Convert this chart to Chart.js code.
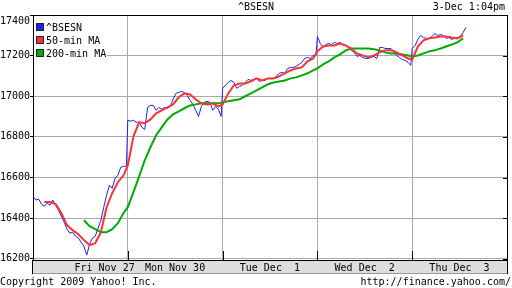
<!DOCTYPE html>
<html>
<head>
<meta charset="utf-8">
<script src="https://cdn.jsdelivr.net/npm/chart.js"></script>
<style>
  body { margin: 0; background: #fff; }
  #wrap { position: relative; width: 512px; height: 288px; overflow: hidden; }
  #wrap canvas { position: absolute; left: 0; top: 0; }
  .txt { position: absolute; font: 10px "DejaVu Sans Mono", monospace; line-height: 12px; color: #000; white-space: pre; }
</style>
</head>
<body>
<div id="wrap">
  <canvas id="chart" width="512" height="288"></canvas>
  <div class="txt" style="left:0;width:512px;text-align:center;top:1px;">^BSESN</div>
  <div class="txt" style="right:7px;top:1px;">3-Dec 1:04pm</div>
  <div class="txt" style="left:0;top:276px;">Copyright 2009 Yahoo! Inc.</div>
  <div class="txt" style="right:1px;top:276px;">http://finance.yahoo.com/</div>
</div>
<script>
// =================== DATA ===================
// each session is 9:55 - 15:30 = 335 minutes
const SESSION = 335;
const dayLabels = ["Fri Nov 27", "Mon Nov 30", "Tue Dec  1", "Wed Dec  2", "Thu Dec  3"];
const labelMinutes = [253, 502, 837, 1172, 1507];
const yTicks = [16200, 16400, 16600, 16800, 17000, 17200, 17400];

// ^BSESN, one value every 10 minutes
const bseFri = [16508, 16489, 16494, 16469, 16459, 16474, 16464, 16489, 16464, 16439,
  16410, 16380, 16346, 16326, 16331, 16311, 16302, 16282, 16262, 16218,
  16272, 16302, 16311, 16351, 16390, 16454, 16513, 16562, 16547, 16597,
  16611, 16650, 16655, 16655];
const bseMon = [16882, 16877, 16882, 16872, 16872, 16847, 16837, 16945, 16955, 16955,
  16931, 16945, 16936, 16945, 16941, 16950, 16985, 17014, 17019, 17024,
  17019, 17004, 16980, 16960, 16931, 16901, 16950, 16970, 16975, 16970,
  16931, 16950, 16936, 16901];
const bseTue = [17039, 17054, 17068, 17078, 17068, 17039, 17049, 17054, 17068, 17083,
  17078, 17083, 17088, 17073, 17078, 17078, 17088, 17088, 17088, 17098,
  17113, 17117, 17113, 17137, 17142, 17142, 17147, 17157, 17167, 17186,
  17191, 17186, 17201, 17201];
const bseWed = [17294, 17260, 17240, 17255, 17260, 17255, 17265, 17260, 17265, 17255,
  17250, 17240, 17226, 17216, 17196, 17201, 17191, 17186, 17186, 17191,
  17196, 17186, 17240, 17240, 17235, 17235, 17235, 17221, 17201, 17191,
  17181, 17176, 17167, 17152];
const bseThu = [17235, 17250, 17280, 17299, 17289, 17285, 17285, 17294, 17309, 17299,
  17304, 17299, 17285, 17289, 17280, 17285, 17289, 17294, 17314, 17339];

// 50-min MA, one value every 20 minutes
const ma50Fri = [null, null, 16479, 16479, 16469, 16425, 16366, 16341, 16321, 16292,
  16267, 16277, 16331, 16454, 16523, 16577, 16611];
const ma50Mon = [16660, 16803, 16872, 16867, 16886, 16916, 16931, 16945, 16960, 16995,
  17014, 17009, 16985, 16965, 16960, 16965, 16950];
const ma50Tue = [16960, 17014, 17054, 17063, 17063, 17073, 17088, 17078, 17088, 17088,
  17098, 17113, 17127, 17137, 17142, 17172, 17186];
const ma50Wed = [17221, 17245, 17250, 17250, 17260, 17250, 17235, 17211, 17201, 17191,
  17201, 17216, 17226, 17226, 17216, 17201, 17186];
const ma50Thu = [17181, 17245, 17275, 17285, 17289, 17294, 17294, 17289, 17285, 17300];

// 200-min MA, one value every 20 minutes
const ma200Fri = [null, null, null, null, null, null, null, null, null, 16390,
  16361, 16346, 16331, 16331, 16346, 16375, 16425];
const ma200Mon = [16454, 16528, 16606, 16685, 16749, 16808, 16847, 16886, 16911, 16926,
  16941, 16955, 16960, 16965, 16965, 16965, 16965];
const ma200Tue = [16970, 16975, 16980, 16985, 17000, 17014, 17029, 17044, 17059, 17068,
  17073, 17078, 17088, 17093, 17103, 17113, 17127];
const ma200Wed = [17137, 17157, 17172, 17191, 17206, 17226, 17235, 17235, 17235, 17235,
  17231, 17226, 17216, 17211, 17211, 17206, 17201];
const ma200Thu = [17196, 17201, 17211, 17221, 17226, 17235, 17245, 17255, 17265, 17285];

// =================== HELPERS ===================
function toPoints(days, step) {
  const pts = [];
  days.forEach((vals, d) => {
    vals.forEach((v, i) => {
      if (v !== null) pts.push({ x: d * SESSION + i * step, y: v });
    });
  });
  return pts;
}

const FONT = { family: "'DejaVu Sans Mono', monospace", size: 10 };
const FONT_CSS = "10px 'DejaVu Sans Mono', monospace";
const boundaries = [1, 2, 3, 4].map(d => d * SESSION);
const topTick = yTicks[yTicks.length - 1];

const legendItems = [
  { text: "^BSESN", color: "#2020ff" },
  { text: "50-min MA", color: "#ff3333" },
  { text: "200-min MA", color: "#00aa00" }
];

// =================== DECORATION PLUGIN ===================
const frame = {
  id: "frame",
  beforeDraw(chart) {
    const { ctx, chartArea: a } = chart;
    ctx.save();
    ctx.fillStyle = "#dddddd";
    ctx.fillRect(a.left, a.bottom, a.right - a.left, 13);
    ctx.restore();
  },
  afterDatasetsDraw(chart) {
    const { ctx, chartArea: a, scales } = chart;
    ctx.save();
    ctx.strokeStyle = "#000";
    ctx.lineWidth = 1;
    ctx.beginPath();
    // top + right border, left/right through the label band
    ctx.moveTo(a.left, a.top + 0.5); ctx.lineTo(a.right, a.top + 0.5);
    ctx.moveTo(a.right + 0.5, a.top); ctx.lineTo(a.right + 0.5, a.bottom + 14);
    ctx.moveTo(a.left - 0.5, a.bottom); ctx.lineTo(a.left - 0.5, a.bottom + 14);
    // day ticks at the bottom
    boundaries.forEach(b => {
      const x = Math.round(scales.x.getPixelForValue(b)) + 0.5;
      ctx.moveTo(x, a.bottom - 9); ctx.lineTo(x, a.bottom);
    });
    // small ticks on the right edge
    yTicks.forEach(t => {
      const y = Math.round(scales.y.getPixelForValue(t)) + 0.5;
      ctx.moveTo(a.right - 4, y); ctx.lineTo(a.right, y);
    });
    ctx.stroke();
    ctx.strokeStyle = "#999";
    ctx.beginPath();
    ctx.moveTo(a.left, a.bottom + 13.5); ctx.lineTo(a.right, a.bottom + 13.5);
    ctx.stroke();

    // top y label sits a bit lower so it is not cut off
    ctx.font = FONT_CSS;
    ctx.fillStyle = "#000";
    ctx.textAlign = "right";
    ctx.textBaseline = "middle";
    ctx.fillText(String(topTick), a.left - 3, scales.y.getPixelForValue(topTick) + 6);

    // legend
    ctx.textAlign = "left";
    ctx.fillStyle = "#fff";
    ctx.fillRect(a.left + 1, 21, 73, 38);
    legendItems.forEach((it, i) => {
      const cy = 27 + i * 13;
      ctx.fillStyle = it.color;
      ctx.fillRect(37, cy - 3, 6, 6);
      ctx.strokeStyle = "#222";
      ctx.strokeRect(36.5, cy - 3.5, 7, 7);
      ctx.fillStyle = "#000";
      ctx.fillText(it.text, 46, cy + 1);
    });
    ctx.restore();
  }
};

// =================== CHART ===================
new Chart(document.getElementById("chart"), {
  type: "line",
  data: {
    datasets: [
      {
        label: "50-min MA",
        data: toPoints([ma50Fri, ma50Mon, ma50Tue, ma50Wed, ma50Thu], 20),
        borderColor: "#ff3333",
        borderWidth: 2,
        order: 0
      },
      {
        label: "200-min MA",
        data: toPoints([ma200Fri, ma200Mon, ma200Tue, ma200Wed, ma200Thu], 20),
        borderColor: "#00aa00",
        borderWidth: 2,
        order: 1
      },
      {
        label: "^BSESN",
        data: toPoints([bseFri, bseMon, bseTue, bseWed, bseThu], 10),
        borderColor: "#2020ff",
        borderWidth: 1,
        order: 2
      }
    ]
  },
  options: {
    responsive: false,
    devicePixelRatio: 1,
    animation: false,
    layout: { padding: { top: 15, right: 5, bottom: 13, left: 0 } },
    elements: { point: { radius: 0 }, line: { tension: 0 } },
    plugins: { legend: { display: false }, tooltip: { enabled: false } },
    scales: {
      x: {
        type: "linear",
        min: 0,
        max: 5 * SESSION,
        afterBuildTicks: s => {
          s.ticks = boundaries.concat(labelMinutes).sort((a, b) => a - b).map(v => ({ value: v }));
        },
        afterFit: s => { s.height = 15; },
        grid: {
          drawTicks: false,
          color: c => (c.tick && boundaries.includes(c.tick.value)) ? "#aaaaaa" : "rgba(0,0,0,0)"
        },
        border: { color: "#000" },
        ticks: {
          font: FONT,
          color: "#000",
          padding: 2,
          maxRotation: 0,
          autoSkip: false,
          callback: v => {
            const i = labelMinutes.indexOf(v);
            return i >= 0 ? dayLabels[i] : "";
          }
        }
      },
      y: {
        min: 16194,
        max: 17400,
        afterBuildTicks: s => { s.ticks = yTicks.map(v => ({ value: v })); },
        afterFit: s => { s.width = 33; },
        grid: { color: "#aaaaaa", tickColor: "#000", tickLength: 3 },
        border: { color: "#000" },
        ticks: {
          font: FONT,
          color: "#000",
          padding: 0,
          callback: v => (v === topTick ? "" : String(v))
        }
      }
    }
  },
  plugins: [frame]
});
</script>
</body>
</html>
